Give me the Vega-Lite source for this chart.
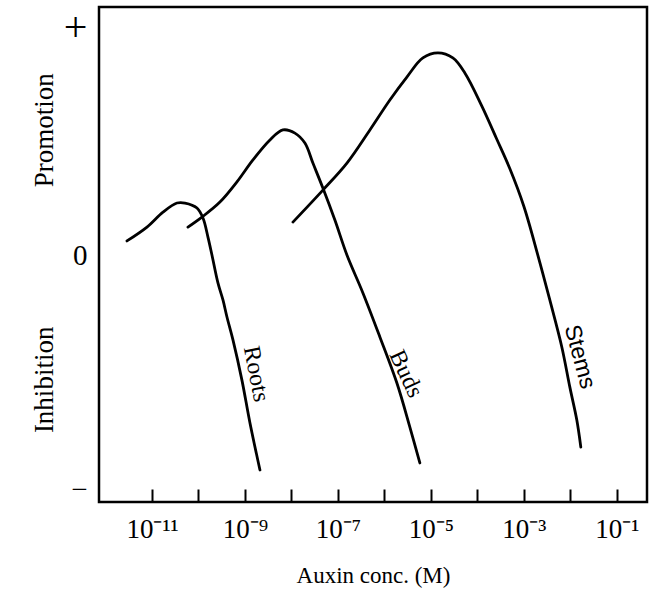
{
  "$schema": "https://vega.github.io/schema/vega-lite/v6.json",
  "width": 548,
  "height": 495,
  "autosize": "none",
  "padding": {"left": 99, "top": 7, "right": 18, "bottom": 94},
  "background": "white",
  "config": {"view": {"stroke": "black", "strokeWidth": 2.5}, "font": "Liberation Serif"},
  "datasets": {
    "curves": [
      {"organ": "Roots", "logc": -11.538, "v": 0.062},
      {"organ": "Roots", "logc": -11.108, "v": 0.123},
      {"organ": "Roots", "logc": -10.763, "v": 0.189},
      {"organ": "Roots", "logc": -10.462, "v": 0.229},
      {"organ": "Roots", "logc": -10.29, "v": 0.229},
      {"organ": "Roots", "logc": -10.032, "v": 0.207},
      {"organ": "Roots", "logc": -9.903, "v": 0.163},
      {"organ": "Roots", "logc": -9.796, "v": 0.079},
      {"organ": "Roots", "logc": -9.71, "v": 0.0},
      {"organ": "Roots", "logc": -9.581, "v": -0.123},
      {"organ": "Roots", "logc": -9.473, "v": -0.198},
      {"organ": "Roots", "logc": -9.387, "v": -0.273},
      {"organ": "Roots", "logc": -9.258, "v": -0.374},
      {"organ": "Roots", "logc": -9.065, "v": -0.551},
      {"organ": "Roots", "logc": -8.892, "v": -0.74},
      {"organ": "Roots", "logc": -8.677, "v": -0.947},
      {"organ": "Buds", "logc": -10.226, "v": 0.123},
      {"organ": "Buds", "logc": -9.925, "v": 0.167},
      {"organ": "Buds", "logc": -9.538, "v": 0.233},
      {"organ": "Buds", "logc": -9.172, "v": 0.322},
      {"organ": "Buds", "logc": -8.828, "v": 0.419},
      {"organ": "Buds", "logc": -8.462, "v": 0.507},
      {"organ": "Buds", "logc": -8.183, "v": 0.551},
      {"organ": "Buds", "logc": -7.925, "v": 0.537},
      {"organ": "Buds", "logc": -7.71, "v": 0.493},
      {"organ": "Buds", "logc": -7.538, "v": 0.405},
      {"organ": "Buds", "logc": -7.323, "v": 0.295},
      {"organ": "Buds", "logc": -7.065, "v": 0.154},
      {"organ": "Buds", "logc": -6.806, "v": 0.0},
      {"organ": "Buds", "logc": -6.462, "v": -0.167},
      {"organ": "Buds", "logc": -6.097, "v": -0.361},
      {"organ": "Buds", "logc": -5.731, "v": -0.564},
      {"organ": "Buds", "logc": -5.452, "v": -0.758},
      {"organ": "Buds", "logc": -5.237, "v": -0.916},
      {"organ": "Stems", "logc": -7.968, "v": 0.145},
      {"organ": "Stems", "logc": -7.323, "v": 0.286},
      {"organ": "Stems", "logc": -6.806, "v": 0.405},
      {"organ": "Stems", "logc": -6.312, "v": 0.551},
      {"organ": "Stems", "logc": -5.882, "v": 0.683},
      {"organ": "Stems", "logc": -5.516, "v": 0.784},
      {"organ": "Stems", "logc": -5.172, "v": 0.868},
      {"organ": "Stems", "logc": -4.849, "v": 0.89},
      {"organ": "Stems", "logc": -4.527, "v": 0.868},
      {"organ": "Stems", "logc": -4.269, "v": 0.802},
      {"organ": "Stems", "logc": -3.903, "v": 0.656},
      {"organ": "Stems", "logc": -3.581, "v": 0.51},
      {"organ": "Stems", "logc": -3.3, "v": 0.38},
      {"organ": "Stems", "logc": -3.0, "v": 0.215},
      {"organ": "Stems", "logc": -2.699, "v": 0.0},
      {"organ": "Stems", "logc": -2.441, "v": -0.198},
      {"organ": "Stems", "logc": -2.183, "v": -0.405},
      {"organ": "Stems", "logc": -2.011, "v": -0.581},
      {"organ": "Stems", "logc": -1.86, "v": -0.727},
      {"organ": "Stems", "logc": -1.774, "v": -0.846}
    ],
    "labels": [
      {"organ": "Roots", "logc": -8.763, "v": -0.524},
      {"organ": "Buds", "logc": -5.538, "v": -0.524},
      {"organ": "Stems", "logc": -1.796, "v": -0.449}
    ],
    "sides": [
      {"t": "Promotion", "v": 0.55},
      {"t": "Inhibition", "v": -0.55}
    ]
  },
  "layer": [
    {
      "mark": {"type": "rule", "color": "black", "strokeWidth": 2.2},
      "encoding": {
        "x": {"datum": -12.14, "type": "quantitative"},
        "x2": {"datum": -0.35},
        "y": {"datum": 0, "type": "quantitative"}
      }
    },
    {
      "data": {"name": "curves"},
      "mark": {"type": "line", "color": "black", "strokeWidth": 2.8, "interpolate": "catmull-rom", "strokeCap": "round"},
      "encoding": {
        "x": {
          "field": "logc", "type": "quantitative",
          "scale": {"domain": [-12.14, -0.35], "nice": false, "zero": false},
          "axis": {
            "values": [-11, -10, -9, -8, -7, -6, -5, -4, -3, -2, -1],
            "grid": false, "domain": false,
            "tickSize": -13, "tickWidth": 2, "tickColor": "black",
            "labelExpr": "datum.value == -11 ? '10⁻¹¹' : datum.value == -9 ? '10⁻⁹' : datum.value == -7 ? '10⁻⁷' : datum.value == -5 ? '10⁻⁵' : datum.value == -3 ? '10⁻³' : datum.value == -1 ? '10⁻¹' : ''",
            "labelFont": "Liberation Serif", "labelFontSize": 27, "labelColor": "black",
            "labelPadding": 27, "labelFlush": false, "labelOverlap": false,
            "title": "Auxin conc. (M)", "titleFont": "Liberation Serif", "titleFontSize": 23,
            "titleFontWeight": "normal", "titleColor": "black", "titlePadding": 22
          }
        },
        "y": {
          "field": "v", "type": "quantitative",
          "scale": {"domain": [-1.088, 1.0925], "nice": false, "zero": false},
          "axis": {
            "values": [-1.031, 0, 1],
            "grid": false, "domain": false, "ticks": false,
            "labelExpr": "datum.value > 0.5 ? '+' : datum.value < -0.5 ? '−' : '0'",
            "labelFont": "Liberation Serif",
            "labelFontSize": {"condition": {"test": "datum.value > 0.5", "value": 42}, "value": 29},
            "labelColor": "black",
            "labelPadding": 12, "title": null
          }
        },
        "detail": {"field": "organ", "type": "nominal"}
      }
    },
    {
      "data": {"name": "labels"},
      "transform": [{"filter": "datum.organ == 'Roots'"}],
      "mark": {"type": "text", "angle": 79, "fontSize": 24, "font": "Liberation Serif", "color": "black", "align": "center", "baseline": "middle"},
      "encoding": {
        "x": {"field": "logc", "type": "quantitative"},
        "y": {"field": "v", "type": "quantitative"},
        "text": {"field": "organ"}
      }
    },
    {
      "data": {"name": "labels"},
      "transform": [{"filter": "datum.organ == 'Buds'"}],
      "mark": {"type": "text", "angle": 65, "fontSize": 24, "font": "Liberation Serif", "color": "black", "align": "center", "baseline": "middle"},
      "encoding": {
        "x": {"field": "logc", "type": "quantitative"},
        "y": {"field": "v", "type": "quantitative"},
        "text": {"field": "organ"}
      }
    },
    {
      "data": {"name": "labels"},
      "transform": [{"filter": "datum.organ == 'Stems'"}],
      "mark": {"type": "text", "angle": 75, "fontSize": 23, "font": "Liberation Sans", "color": "black", "align": "center", "baseline": "middle"},
      "encoding": {
        "x": {"field": "logc", "type": "quantitative"},
        "y": {"field": "v", "type": "quantitative"},
        "text": {"field": "organ"}
      }
    },
    {
      "data": {"name": "sides"},
      "mark": {"type": "text", "angle": 270, "fontSize": 27, "font": "Liberation Serif", "color": "black", "align": "center", "baseline": "middle", "dy": -54},
      "encoding": {
        "x": {"datum": -12.14, "type": "quantitative"},
        "y": {"field": "v", "type": "quantitative"},
        "text": {"field": "t"}
      }
    }
  ]
}
